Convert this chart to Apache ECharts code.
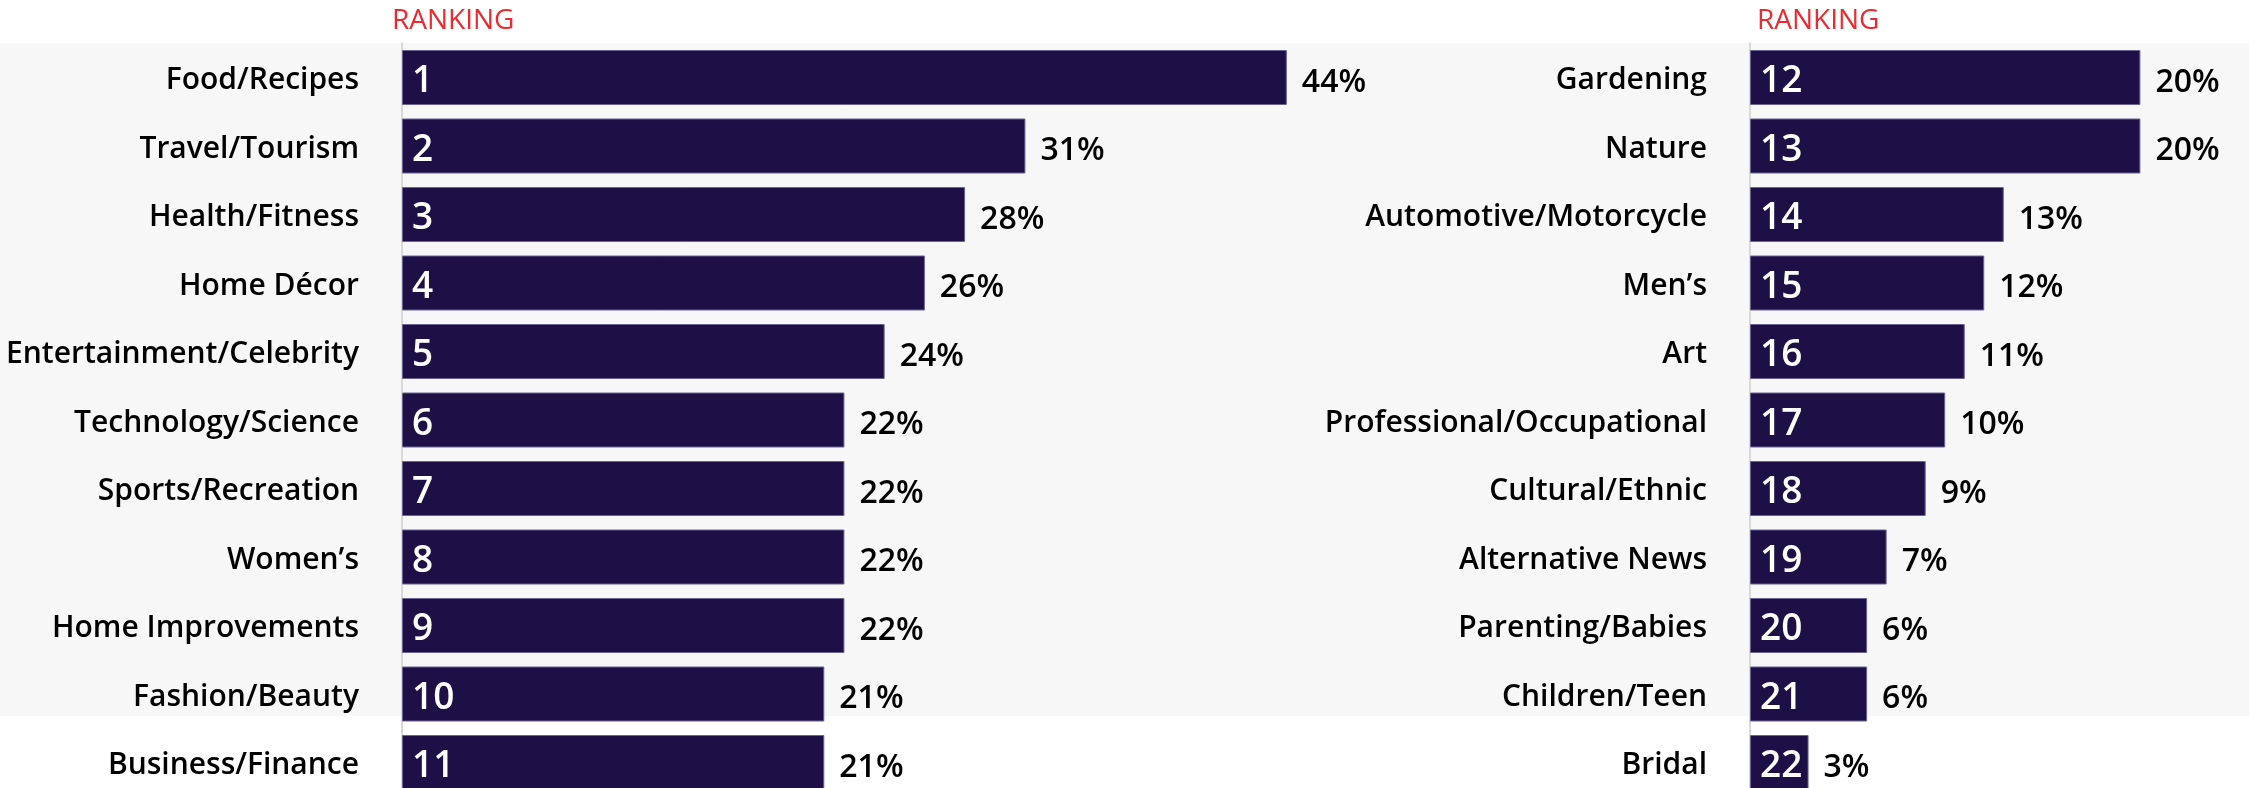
<!DOCTYPE html>
<html>
<head>
<meta charset="utf-8">
<script src="https://cdn.jsdelivr.net/npm/echarts@6/dist/echarts.min.js"></script>
<style>
  html, body { margin: 0; padding: 0; background: #ffffff; }
  #chart { width: 2249px; height: 788px; }
</style>
</head>
<body>
<div id="chart"></div>
<script>
// Magazine categories, ranked 1-22, with the share of readers for each
const leftCategories = [
  'Food/Recipes', 'Travel/Tourism', 'Health/Fitness', 'Home Décor',
  'Entertainment/Celebrity', 'Technology/Science', 'Sports/Recreation',
  'Women’s', 'Home Improvements', 'Fashion/Beauty', 'Business/Finance'
];
const leftValues = [44, 31, 28, 26, 24, 22, 22, 22, 22, 21, 21];
const leftRanks = [1, 2, 3, 4, 5, 6, 7, 8, 9, 10, 11];

const rightCategories = [
  'Gardening', 'Nature', 'Automotive/Motorcycle', 'Men’s', 'Art',
  'Professional/Occupational', 'Cultural/Ethnic', 'Alternative News',
  'Parenting/Babies', 'Children/Teen', 'Bridal'
];
const rightValues = [20, 20, 13, 12, 11, 10, 9, 7, 6, 6, 3];
const rightRanks = [12, 13, 14, 15, 16, 17, 18, 19, 20, 21, 22];

const headerText = 'RANKING';

const FONT = '"Open Sans", "Noto Sans", sans-serif';
const BAR_COLOR = '#1e1046';
const BAR_EDGE = '#6a6394';

function categoryAxis(gridIndex, cats) {
  return {
    gridIndex: gridIndex,
    type: 'category',
    data: cats,
    inverse: true,
    axisLine: { show: true, lineStyle: { color: '#d9d9d9', width: 2 } },
    axisTick: { show: false },
    splitLine: { show: false },
    axisLabel: {
      margin: 43,
      formatter: v => '{c|' + v + '}',
      rich: {
        c: {
          padding: [6, 0, 0, 0],
          fontSize: 30,
          fontWeight: 600,
          color: '#000000',
          fontFamily: FONT
        }
      }
    }
  };
}

function valueAxis(gridIndex, max) {
  return { gridIndex: gridIndex, type: 'value', min: 0, max: max, show: false };
}

function barSeries(axisIndex, values, ranks) {
  return [
    {
      type: 'bar',
      xAxisIndex: axisIndex,
      yAxisIndex: axisIndex,
      data: values,
      barWidth: 55,
      barGap: '-100%',
      itemStyle: { color: BAR_COLOR, borderColor: BAR_EDGE, borderWidth: 1 },
      label: {
        show: true,
        position: 'insideLeft',
        distance: 10,
        offset: [0, 4],
        formatter: p => String(ranks[p.dataIndex]),
        color: '#ffffff',
        fontSize: 37,
        fontWeight: 600,
        fontFamily: FONT
      },
      emphasis: { disabled: true },
      z: 3
    },
    {
      type: 'bar',
      xAxisIndex: axisIndex,
      yAxisIndex: axisIndex,
      data: values,
      barWidth: 55,
      barGap: '-100%',
      itemStyle: { color: 'rgba(0,0,0,0)' },
      label: {
        show: true,
        position: 'right',
        distance: 15,
        offset: [0, 5],
        formatter: p => p.value + '%',
        color: '#000000',
        fontSize: 32,
        fontWeight: 600,
        fontFamily: FONT
      },
      emphasis: { disabled: true },
      silent: true,
      z: 4
    }
  ];
}

const chart = echarts.init(document.getElementById('chart'), null, { renderer: 'canvas' });

chart.setOption({
  animation: false,
  backgroundColor: '#ffffff',
  grid: [
    { left: 402, top: 43.25, width: 1005.5, height: 753.5, containLabel: false, outerBoundsMode: 'none' },
    { left: 1750, top: 43.25, width: 488, height: 753.5, containLabel: false, outerBoundsMode: 'none' }
  ],
  xAxis: [valueAxis(0, 50), valueAxis(1, 25)],
  yAxis: [categoryAxis(0, leftCategories), categoryAxis(1, rightCategories)],
  graphic: [
    {
      type: 'rect',
      left: 0,
      top: 43,
      z: -100,
      silent: true,
      shape: { width: 2249, height: 673 },
      style: { fill: '#f7f7f7' }
    },
    {
      type: 'text',
      left: 392,
      top: 7,
      silent: true,
      style: { text: headerText, fill: '#ec2a2f', font: '500 28px ' + FONT }
    },
    {
      type: 'text',
      left: 1757,
      top: 7,
      silent: true,
      style: { text: headerText, fill: '#ec2a2f', font: '500 28px ' + FONT }
    }
  ],
  series: [].concat(barSeries(0, leftValues, leftRanks), barSeries(1, rightValues, rightRanks))
});
</script>
</body>
</html>
